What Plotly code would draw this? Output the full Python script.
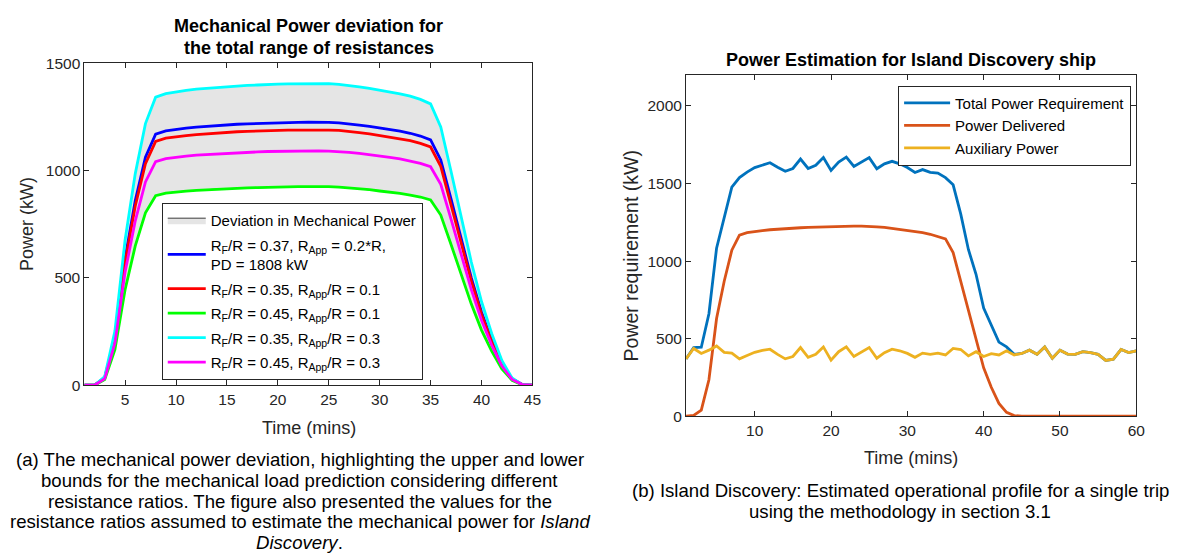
import plotly.graph_objects as go

# ---------------- Data: panel (a) ----------------
time_a = list(range(1, 46))
pd_1808 = [0, 0, 35, 220, 590, 860, 1063, 1170, 1185, 1193, 1198, 1203, 1207, 1210, 1213,
           1216, 1218, 1220, 1222, 1223, 1224, 1225, 1226, 1226, 1225, 1222, 1218, 1212, 1206, 1199,
           1192, 1184, 1174, 1161, 1143, 1050, 870, 680, 500, 340, 210, 100, 30, 3, 0]
rf035_app01 = [0, 0, 34, 214, 573, 835, 1032, 1136, 1151, 1158, 1163, 1168, 1172, 1175, 1178,
               1181, 1183, 1185, 1187, 1188, 1189, 1189, 1190, 1190, 1189, 1187, 1183, 1177, 1171, 1164,
               1157, 1150, 1140, 1127, 1110, 1020, 845, 660, 486, 330, 204, 97, 29, 3, 0]
rf045_app01 = [0, 0, 26, 166, 445, 649, 803, 883, 895, 901, 904, 908, 911, 914, 916,
               918, 920, 921, 923, 923, 924, 925, 926, 926, 925, 923, 920, 915, 911, 905,
               900, 894, 886, 877, 863, 793, 657, 513, 378, 257, 159, 76, 23, 2, 0]
rf035_app03 = [0, 0, 40, 252, 677, 986, 1219, 1342, 1359, 1368, 1374, 1380, 1384, 1388, 1391,
               1395, 1397, 1399, 1402, 1403, 1404, 1405, 1406, 1406, 1405, 1402, 1397, 1390, 1383, 1375,
               1367, 1358, 1347, 1332, 1311, 1204, 998, 780, 574, 390, 241, 115, 34, 3, 0]
rf045_app03 = [0, 0, 31, 196, 526, 766, 947, 1042, 1056, 1063, 1067, 1072, 1075, 1078, 1081,
               1083, 1085, 1087, 1089, 1090, 1091, 1091, 1092, 1092, 1091, 1089, 1085, 1080, 1075, 1068,
               1062, 1055, 1046, 1034, 1018, 936, 775, 606, 446, 303, 187, 89, 27, 3, 0]

# ---------------- Data: panel (b) ----------------
time_b = list(range(1, 61))
total_power = [370, 442, 445, 661, 1083, 1282, 1477, 1538, 1574, 1603, 1621, 1634, 1605, 1579, 1597,
               1658, 1597, 1618, 1668, 1584, 1639, 1671, 1610, 1641, 1667, 1595, 1627, 1643, 1627, 1603,
               1571, 1590, 1572, 1567, 1538, 1492, 1303, 1075, 915, 697, 590, 478, 447, 399, 405,
               426, 399, 447, 374, 426, 401, 399, 416, 410, 399, 360, 368, 430, 410, 422]
power_delivered = [0, 5, 40, 235, 630, 870, 1070, 1168, 1183, 1191, 1197, 1202, 1206, 1209, 1212,
                   1215, 1217, 1219, 1221, 1222, 1223, 1224, 1225, 1225, 1224, 1221, 1217, 1211, 1205, 1198,
                   1191, 1183, 1173, 1160, 1143, 1055, 873, 686, 499, 312, 187, 83, 25, 4, 0,
                   0, 0, 0, 0, 0, 0, 0, 0, 0, 0, 0, 0, 0, 0, 0]
aux_power = [370, 437, 405, 426, 453, 412, 407, 370, 391, 412, 424, 432, 399, 370, 385,
             443, 380, 399, 447, 362, 416, 447, 385, 416, 443, 374, 410, 432, 422, 405,
             380, 407, 399, 407, 395, 437, 430, 389, 416, 385, 403, 395, 422, 395, 405,
             426, 399, 447, 374, 426, 401, 399, 416, 410, 399, 360, 368, 430, 410, 422]

ticks_a_x = [5, 10, 15, 20, 25, 30, 35, 40, 45]
ticks_a_y = [0, 500, 1000, 1500]
ticks_b_x = [10, 20, 30, 40, 50, 60]
ticks_b_y = [0, 500, 1000, 1500, 2000]

FONT = "Liberation Sans, Arial, Helvetica, sans-serif"
AX = "#262626"
W, H = 1182, 560

fig = go.Figure()

# Deviation band (upper = cyan curve, lower = green curve)
fig.add_trace(go.Scatter(
    x=time_a + time_a[::-1], y=rf035_app03 + rf045_app01[::-1],
    fill="toself", fillcolor="#e5e5e5", line=dict(color="#3a3a3a", width=1),
    mode="lines", name="Deviation in Mechanical Power", legend="legend",
    legendgroup="g0", xaxis="x", yaxis="y", hoverinfo="skip"))

series_a = [
    (pd_1808, "#0000ff", "R<sub>F</sub>/R = 0.37, R<sub>App</sub> = 0.2*R,<br>PD = 1808 kW"),
    (rf035_app01, "#ff0000", "R<sub>F</sub>/R = 0.35, R<sub>App</sub>/R = 0.1"),
    (rf045_app01, "#00ff00", "R<sub>F</sub>/R = 0.45, R<sub>App</sub>/R = 0.1"),
    (rf035_app03, "#00ffff", "R<sub>F</sub>/R = 0.35, R<sub>App</sub>/R = 0.3"),
    (rf045_app03, "#ff00ff", "R<sub>F</sub>/R = 0.45, R<sub>App</sub>/R = 0.3"),
]
for i, (ys, col, nm) in enumerate(series_a):
    fig.add_trace(go.Scatter(x=time_a, y=ys, mode="lines", name=nm,
                             line=dict(color=col, width=2.8), legend="legend",
                             legendgroup=f"g{i + 1}", xaxis="x", yaxis="y"))

series_b = [
    (total_power, "#0072BD", "Total Power Requirement"),
    (power_delivered, "#D95319", "Power Delivered"),
    (aux_power, "#EDB120", "Auxiliary Power"),
]
for ys, col, nm in series_b:
    fig.add_trace(go.Scatter(x=time_b, y=ys, mode="lines", name=nm,
                             line=dict(color=col, width=2.8), legend="legend2",
                             xaxis="x2", yaxis="y2"))

axis_style = dict(showline=True, linecolor=AX, linewidth=1, mirror="allticks",
                  ticks="inside", ticklen=5, tickcolor=AX, tickwidth=1,
                  showgrid=False, zeroline=False,
                  tickfont=dict(family=FONT, size=15.5, color=AX))


def px_x(p):
    return p / W


def px_y(p):
    return 1 - p / H


fig.update_layout(
    width=W, height=H, margin=dict(l=0, r=0, t=0, b=0),
    paper_bgcolor="white", plot_bgcolor="white",
    font=dict(family=FONT, color=AX),
    xaxis=dict(domain=[px_x(85), px_x(536.5)], range=[1, 45], tickvals=ticks_a_x,
               anchor="y", **axis_style),
    yaxis=dict(domain=[px_y(388), px_y(56)], range=[0, 1500], tickvals=ticks_a_y,
               anchor="x", **axis_style),
    xaxis2=dict(domain=[px_x(691.3), px_x(1145)], range=[1, 60], tickvals=ticks_b_x,
                anchor="y2", **axis_style),
    yaxis2=dict(domain=[px_y(420), px_y(68)], range=[0, 2200], tickvals=ticks_b_y,
                anchor="x2", **axis_style),
    legend=dict(x=px_x(163), y=px_y(200), xanchor="left", yanchor="top",
                bgcolor="white", bordercolor=AX, borderwidth=1, itemwidth=38,
                font=dict(family=FONT, size=15, color="black"), tracegroupgap=2),
    legend2=dict(x=px_x(905), y=px_y(79), xanchor="left", yanchor="top",
                 bgcolor="white", bordercolor=AX, borderwidth=1, itemwidth=46,
                 font=dict(family=FONT, size=15, color="black"), tracegroupgap=0),
    showlegend=True,
)


def ann(text, x, y, size, color="black", bold=False, angle=0, xanchor="center"):
    fig.add_annotation(text=f"<b>{text}</b>" if bold else text,
                       x=px_x(x), y=px_y(y), xref="paper", yref="paper",
                       xanchor=xanchor, yanchor="middle", showarrow=False,
                       textangle=angle, font=dict(family=FONT, size=size, color=color))


# Titles
ann("Mechanical Power deviation for", 311, 18, 18, bold=True)
ann("the total range of resistances", 311, 40, 18, bold=True)
ann("Power Estimation for Island Discovery ship", 918, 53, 18, bold=True)

# Axis titles
ann("Power (kW)", 27, 222, 18, color=AX, angle=-90)
ann("Time (mins)", 311, 432, 18, color=AX)
ann("Power requirement (kW)", 636, 255, 19.5, color=AX, angle=-90)
ann("Time (mins)", 918, 463, 18, color=AX)

# Captions
cap_a = ["(a) The mechanical power deviation, highlighting the upper and lower",
         "bounds for the mechanical load prediction considering different",
         "resistance ratios. The figure also presented the values for the",
         "resistance ratios assumed to estimate the mechanical power for <i>Island</i>",
         "<i>Discovery</i>."]
for i, line in enumerate(cap_a):
    ann(line, 302, 465 + 21.3 * i, 18.6)

cap_b = ["(b) Island Discovery: Estimated operational profile for a single trip",
         "using the methodology in section 3.1"]
for i, line in enumerate(cap_b):
    ann(line, 907, 497 + 21.3 * i, 18.6)

fig.write_html("out.html")
